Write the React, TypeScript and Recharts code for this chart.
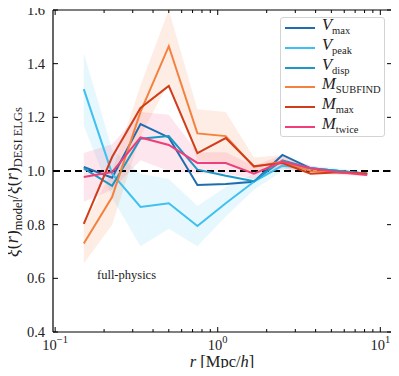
import React from 'react';
import { ComposedChart, Line, Area, XAxis, YAxis, ReferenceLine } from 'recharts';

// ---- data ----
const rValues = [0.15, 0.224, 0.335, 0.5, 0.75, 1.12, 1.67, 2.5, 3.73, 5.57, 8.3];
const vmax = [1.015, 0.975, 1.175, 1.125, 0.948, 0.952, 0.96, 1.06, 1.01, 1.0, 0.99];
const vpeak = [1.305, 0.99, 0.866, 0.88, 0.795, 0.88, 0.96, 1.02, 1.01, 1.0, 0.99];
const vdisp = [1.01, 0.945, 1.12, 1.13, 1.005, 0.982, 0.962, 1.04, 1.01, 1.0, 0.99];
const msubfind = [0.73, 0.903, 1.22, 1.465, 1.14, 1.13, 1.015, 1.035, 1.0, 0.995, 0.99];
const mmax = [0.803, 1.052, 1.235, 1.317, 1.067, 1.123, 1.018, 1.03, 0.99, 0.995, 0.99];
const mtwice = [0.978, 0.996, 1.125, 1.097, 1.03, 1.03, 0.99, 1.035, 1.01, 0.995, 0.985];

const msubLo = [0.655, 0.8, 1.13, 1.33, 1.04, 1.03, 0.99, 1.01, 0.99, 0.985, 0.98];
const msubHi = [0.8, 1.0, 1.32, 1.6, 1.23, 1.22, 1.05, 1.06, 1.01, 1.0, 0.995];
const vpeakLo = [1.17, 0.9, 0.72, 0.785, 0.72, 0.83, 0.93, 1.0, 1.0, 0.99, 0.985];
const vpeakHi = [1.44, 1.08, 0.99, 0.97, 0.87, 0.94, 0.99, 1.04, 1.02, 1.01, 0.995];
const mtwLo = [0.885, 0.93, 1.04, 1.0, 0.99, 0.99, 0.97, 1.01, 1.0, 0.99, 0.98];
const mtwHi = [1.067, 1.1, 1.22, 1.21, 1.07, 1.07, 1.02, 1.06, 1.02, 1.0, 0.99];

const yTicks = [0.4, 0.6, 0.8, 1.0, 1.2, 1.4, 1.6];
const xMajor = [0.1, 1, 10];
const xMajorExp = ['\u22121', '0', '1'];
const xMinor = [0.2, 0.3, 0.4, 0.5, 0.6, 0.7, 0.8, 0.9, 2, 3, 4, 5, 6, 7, 8, 9];

const COLORS = {
  vmax: '#1f6db0',
  vpeak: '#3ec1f0',
  vdisp: '#1b98c8',
  msub: '#f5813f',
  mmax: '#d03d1a',
  mtwice: '#ee3f7a',
};

const legendItems = [
  { main: 'V', sub: 'max', color: COLORS.vmax },
  { main: 'V', sub: 'peak', color: COLORS.vpeak },
  { main: 'V', sub: 'disp', color: COLORS.vdisp },
  { main: 'M', sub: 'SUBFIND', color: COLORS.msub },
  { main: 'M', sub: 'max', color: COLORS.mmax },
  { main: 'M', sub: 'twice', color: COLORS.mtwice },
];

const data = rValues.map((r, i) => ({
  r,
  vmax: vmax[i],
  vpeak: vpeak[i],
  vdisp: vdisp[i],
  msub: msubfind[i],
  mmax: mmax[i],
  mtwice: mtwice[i],
  msubBand: [msubLo[i], msubHi[i]],
  vpeakBand: [vpeakLo[i], vpeakHi[i]],
  mtwBand: [mtwLo[i], mtwHi[i]],
}));

const FONT = '"Liberation Serif", "DejaVu Serif", serif';
const TXT = '#222';

const W = 399;
const H = 376;

const isMajor = (v: number) => xMajor.some((m) => Math.abs(m - v) < 1e-9);

function BottomTick(props: any) {
  const { x, y, payload } = props;
  const v = payload.value;
  const major = isMajor(v);
  const idx = xMajor.findIndex((m) => Math.abs(m - v) < 1e-9);
  return (
    <g>
      <line x1={x} x2={x} y1={y} y2={y - (major ? 5 : 3)} stroke="#000" strokeWidth={1} />
      {major && (
        <text x={x} y={y + 18} textAnchor="middle" fontFamily={FONT} fontSize={14.5} fill={TXT}>
          10
          <tspan dy={-7} fontSize={10.5}>{xMajorExp[idx]}</tspan>
        </text>
      )}
    </g>
  );
}

function TopTick(props: any) {
  const { x, y, payload } = props;
  const major = isMajor(payload.value);
  return <line x1={x} x2={x} y1={y} y2={y + (major ? 5 : 3)} stroke="#000" strokeWidth={1} />;
}

function LeftTick(props: any) {
  const { x, y, payload } = props;
  return (
    <g>
      <line x1={x} x2={x + 5} y1={y} y2={y} stroke="#000" strokeWidth={1} />
      <text x={x - 8} y={y + 5} textAnchor="end" fontFamily={FONT} fontSize={14.5} fill={TXT}>
        {payload.value.toFixed(1)}
      </text>
    </g>
  );
}

function RightTick(props: any) {
  const { x, y } = props;
  return <line x1={x} x2={x - 5} y1={y} y2={y} stroke="#000" strokeWidth={1} />;
}

export default function App() {
  return (
    <div style={{ position: 'relative', width: W, height: H, margin: -8 }}>
      <ComposedChart
        width={W}
        height={H}
        data={data}
        margin={{ top: 9, right: 6, bottom: 0, left: 0 }}
      >
        <XAxis
          xAxisId="b"
          dataKey="r"
          type="number"
          scale="log"
          domain={[0.097, 11.8]}
          allowDataOverflow
          ticks={[...xMajor, ...xMinor]}
          interval={0}
          orientation="bottom"
          height={44}
          tickSize={0}
          tickMargin={0}
          tickLine={false}
          axisLine={{ stroke: '#000', strokeWidth: 1.2 }}
          tick={<BottomTick />}
        />
        <XAxis
          xAxisId="t"
          dataKey="r"
          type="number"
          scale="log"
          domain={[0.097, 11.8]}
          allowDataOverflow
          ticks={[...xMajor, ...xMinor]}
          interval={0}
          orientation="top"
          height={1}
          tickSize={0}
          tickMargin={0}
          tickLine={false}
          axisLine={{ stroke: '#000', strokeWidth: 1.2 }}
          tick={<TopTick />}
        />
        <YAxis
          yAxisId="l"
          type="number"
          domain={[0.4, 1.6]}
          allowDataOverflow
          ticks={yTicks}
          interval={0}
          orientation="left"
          width={53}
          tickSize={0}
          tickMargin={0}
          tickLine={false}
          axisLine={{ stroke: '#000', strokeWidth: 1.2 }}
          tick={<LeftTick />}
        />
        <YAxis
          yAxisId="r"
          type="number"
          domain={[0.4, 1.6]}
          allowDataOverflow
          ticks={yTicks}
          interval={0}
          orientation="right"
          width={1}
          tickSize={0}
          tickMargin={0}
          tickLine={false}
          axisLine={{ stroke: '#000', strokeWidth: 1.2 }}
          tick={<RightTick />}
        />

        <Area xAxisId="b" yAxisId="l" type="linear" dataKey="vpeakBand" stroke="none" fill={COLORS.vpeak} fillOpacity={0.13} isAnimationActive={false} />
        <Area xAxisId="b" yAxisId="l" type="linear" dataKey="mtwBand" stroke="none" fill={COLORS.mtwice} fillOpacity={0.13} isAnimationActive={false} />
        <Area xAxisId="b" yAxisId="l" type="linear" dataKey="msubBand" stroke="none" fill={COLORS.msub} fillOpacity={0.14} isAnimationActive={false} />

        <ReferenceLine xAxisId="b" yAxisId="l" y={1} stroke="#000" strokeWidth={2} strokeDasharray="7 4" />

        <Line xAxisId="b" yAxisId="l" type="linear" dataKey="vmax" stroke={COLORS.vmax} strokeWidth={2} dot={false} isAnimationActive={false} />
        <Line xAxisId="b" yAxisId="l" type="linear" dataKey="vpeak" stroke={COLORS.vpeak} strokeWidth={2} dot={false} isAnimationActive={false} />
        <Line xAxisId="b" yAxisId="l" type="linear" dataKey="vdisp" stroke={COLORS.vdisp} strokeWidth={2} dot={false} isAnimationActive={false} />
        <Line xAxisId="b" yAxisId="l" type="linear" dataKey="msub" stroke={COLORS.msub} strokeWidth={2} dot={false} isAnimationActive={false} />
        <Line xAxisId="b" yAxisId="l" type="linear" dataKey="mmax" stroke={COLORS.mmax} strokeWidth={2} dot={false} isAnimationActive={false} />
        <Line xAxisId="b" yAxisId="l" type="linear" dataKey="mtwice" stroke={COLORS.mtwice} strokeWidth={2} dot={false} isAnimationActive={false} />

        <Line xAxisId="t" yAxisId="r" type="linear" dataKey="vmax" stroke="none" strokeWidth={0} dot={false} isAnimationActive={false} />
      </ComposedChart>

      <svg
        width={W}
        height={H}
        style={{ position: 'absolute', left: 0, top: 0, pointerEvents: 'none' }}
      >
        <text x={97} y={279} fontFamily={FONT} fontSize={12.5} fill={TXT}>full-physics</text>
        <text x={222} y={367} textAnchor="middle" fontFamily={FONT} fontSize={16.5} fill={TXT}>
          <tspan fontStyle="italic">r</tspan> [Mpc/<tspan fontStyle="italic">h</tspan>]
        </text>
        <text
          transform="translate(18, 182) rotate(-90)"
          textAnchor="middle"
          fontFamily={FONT}
          fontSize={18}
          fill={TXT}
        >
          <tspan fontStyle="italic">ξ</tspan>(<tspan fontStyle="italic">r</tspan>)
          <tspan fontSize={12.5} dy={4}>model</tspan>
          <tspan dy={-4}>/</tspan>
          <tspan fontStyle="italic">ξ</tspan>(<tspan fontStyle="italic">r</tspan>)
          <tspan fontSize={12.5} dy={4}>DESI ELGs</tspan>
        </text>
      </svg>

      <div
        style={{
          position: 'absolute',
          left: 280,
          top: 17,
          width: 105,
          height: 120,
          boxSizing: 'border-box',
          border: '1px solid #d4d4d4',
          borderRadius: 3,
          background: 'rgba(255,255,255,0.85)',
          fontFamily: FONT,
          color: TXT,
        }}
      >
        {legendItems.map((it, i) => (
          <div key={i} style={{ position: 'absolute', left: 0, top: 10 + i * 19.8, width: '100%' }}>
            <div style={{ position: 'absolute', left: 4, top: -1, width: 30, height: 2, background: it.color }} />
            <div style={{ position: 'absolute', left: 41, top: -11, whiteSpace: 'nowrap', lineHeight: '16px' }}>
              <span style={{ fontStyle: 'italic', fontSize: 16.5 }}>{it.main}</span>
              <span style={{ fontSize: 10.5, position: 'relative', top: 4 }}>{it.sub}</span>
            </div>
          </div>
        ))}
      </div>
    </div>
  );
}
